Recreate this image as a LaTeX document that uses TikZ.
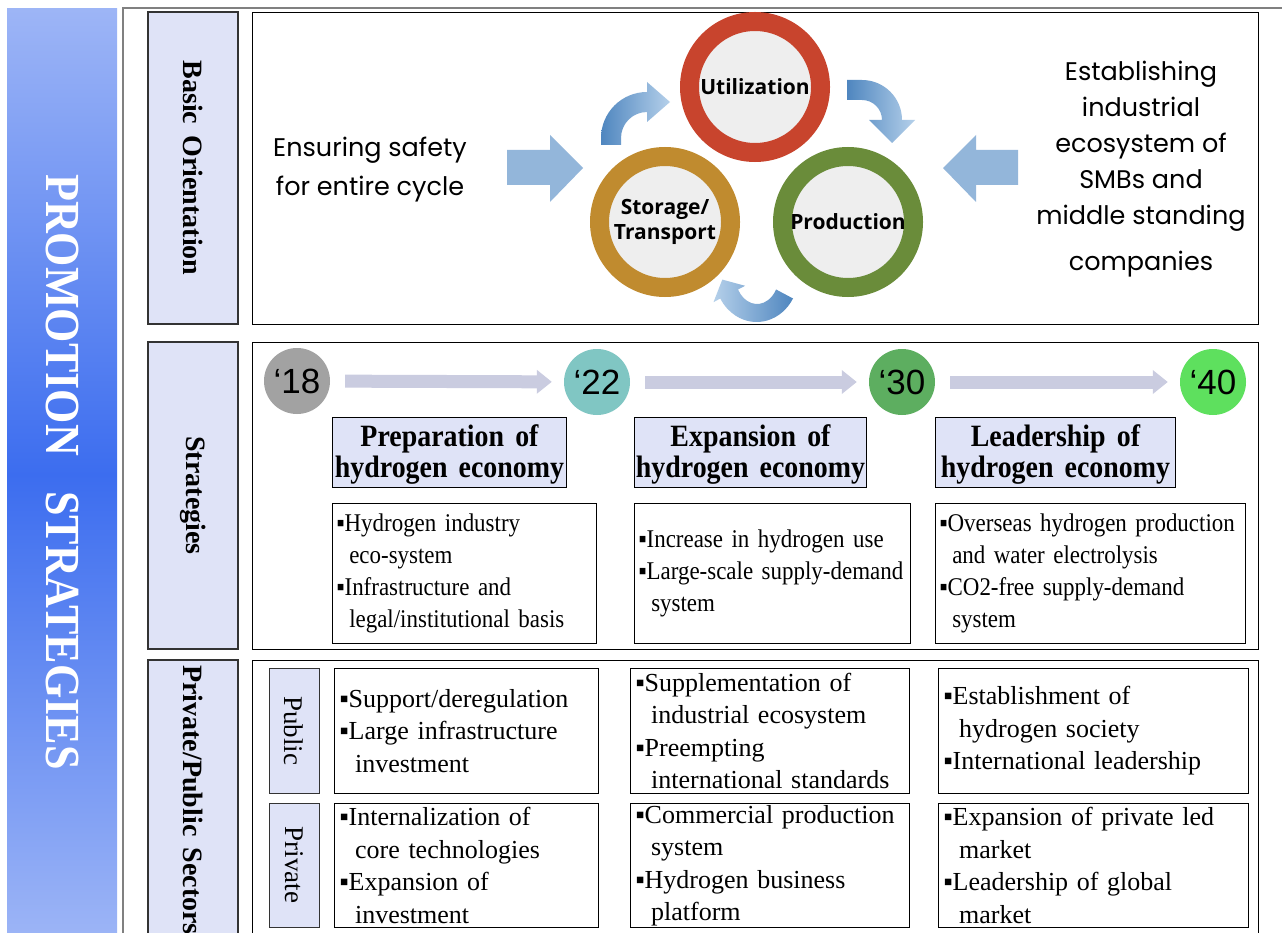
\documentclass[tikz,border=0pt]{standalone}
\usepackage{fontspec}
\setmainfont{Liberation Serif}[WordSpace=1.6]
\newfontfamily\condserif{Liberation Serif}[FakeStretch=0.9,WordSpace=1.3]
\newfontfamily\headserif{Liberation Serif}[FakeStretch=0.9,WordSpace=1.6]
\newfontfamily\gothic{Poppins}
\newfontfamily\cyclesans{Open Sans}
\newfontfamily\arialike{Liberation Sans}
\usetikzlibrary{arrows.meta}

\definecolor{lav}{HTML}{DFE3F7}
\definecolor{barlight}{HTML}{9DB5F6}
\definecolor{bardark}{HTML}{3C6DEF}
\definecolor{framegray}{HTML}{808080}
\definecolor{ringred}{HTML}{C8442D}
\definecolor{ringgold}{HTML}{C08B2F}
\definecolor{ringgreen}{HTML}{6A8C3A}
\definecolor{disk}{HTML}{EEEEEE}
\definecolor{flowdark}{HTML}{4F86BF}
\definecolor{flowlight}{HTML}{B5D0EA}
\definecolor{bigarrow}{HTML}{93B6DA}
\definecolor{yr18}{HTML}{A2A2A2}
\definecolor{yr22}{HTML}{80C6C3}
\definecolor{yr30}{HTML}{5DAE60}
\definecolor{yr40}{HTML}{5EE05E}
\definecolor{yrarrow}{HTML}{CACCE0}

\newcommand{\bul}{▪}
\newcommand{\ind}{\hspace*{0.6em}}
\newcommand{\cind}{\hspace*{0.5em}}

\tikzset{
  panel/.style={draw=black, line width=1pt, fill=white, inner sep=0pt, anchor=north west},
  sidelabel/.style={draw=black!80, line width=1.3pt, fill=lav, rotate=-90, inner sep=0pt,
    minimum height=90pt, font=\bfseries\fontsize{28}{28}\selectfont},
  rowlabel/.style={draw=black!80, line width=1pt, fill=lav, rotate=-90, inner sep=0pt,
    minimum height=50pt, font=\fontsize{27}{27}\selectfont},
  ring/.style={circle, draw=#1, line width=19pt, fill=disk, minimum size=131pt, inner sep=0pt,
    font=\cyclesans\bfseries\fontsize{21}{25}\selectfont, align=center},
  year/.style={circle, minimum size=66pt, inner sep=0pt, font=\arialike\fontsize{35}{35}\selectfont},
  yarrow/.style={draw=yrarrow, line width=13pt, -{Triangle[width=23pt,length=15pt]},
    shorten <=15pt, shorten >=12pt},
  headbox/.style={draw=black, line width=1pt, fill=lav, inner sep=0pt, anchor=north west,
    minimum height=70pt, align=center, font=\headserif\bfseries\fontsize{31}{31}\selectfont},
  stratbox/.style={draw=black, line width=1pt, fill=white, inner xsep=4pt, inner ysep=0pt,
    anchor=north west, minimum height=140pt, align=left, font=\condserif\fontsize{25.5}{32}\selectfont},
  sectorbox/.style={draw=black, line width=1pt, fill=white, inner xsep=5pt, inner ysep=0pt,
    anchor=north west, minimum height=125pt, align=left, font=\fontsize{26}{32.5}\selectfont},
  flowup/.style={left color=flowdark, right color=flowlight},
  flowback/.style={left color=flowlight, right color=flowdark},
}

\begin{document}
\begin{tikzpicture}[x=1pt,y=1pt]
\useasboundingbox (0,0) rectangle (1282,-933);
\clip (0,0) rectangle (1282,-933);
\fill[white] (0,0) rectangle (1282,-933);

% title bar
\shade[top color=barlight, bottom color=barlight, middle color=bardark] (7,-9) rectangle (117,-940);
\node[rotate=-90, text=white, font=\headserif\bfseries\fontsize{49}{49}\selectfont] (title) at (62,-472) {PROMOTION\ \ STRATEGIES};

% outer frame
\draw[framegray, line width=1.5pt] (123,-945) -- (123,-8) -- (1295,-8);

% row labels
\node[sidelabel, minimum width=312pt] (lblbasic) at (193,-168) {Basic Orientation};
\node[sidelabel, minimum width=307pt] (lblstrat) at (193,-495.5) {Strategies};
\node[sidelabel, minimum width=280pt] (lblsector) at (193,-800) {Private/Public Sectors};

% panels
\node[panel, minimum width=1006pt, minimum height=312pt] (basicpanel) at (252,-12) {};
\node[panel, minimum width=1006pt, minimum height=307pt] (stratpanel) at (252,-342) {};
\node[panel, minimum width=1006pt, minimum height=290pt] (sectorpanel) at (252,-660) {};

% ---------- basic orientation: hydrogen cycle ----------
\node[ring=ringred] (util) at (755,-87) {Utilization};
\node[ring=ringgold] (storage) at (665,-222) {Storage/\\Transport};
\node[ring=ringgreen] (prod) at (848,-222) {Production};

% storage -> utilization
\shade[flowup] (601,-145) -- (601,-138) arc[start angle=180, end angle=90, radius=46pt]
  -- (647,-82) -- (670,-102) -- (647,-122) -- (647,-112)
  arc[start angle=90, end angle=180, radius=26pt] -- (621,-145) -- cycle;
% utilization -> production
\shade[flowup] (847,-80) -- (862,-80) arc[start angle=90, end angle=0, radius=40pt]
  -- (915,-120) -- (892,-143) -- (869,-120) -- (882,-120)
  arc[start angle=0, end angle=90, radius=20pt] -- (847,-100) -- cycle;
% production -> storage
\shade[flowback] (793,-298.5) arc[start angle=-30, end angle=-150, x radius=42pt, y radius=47pt]
  -- (713.5,-302.2) -- (722.3,-279.6) -- (745.1,-285.8) -- (738,-289.5)
  arc[start angle=-150, end angle=-30, x radius=22pt, y radius=29pt] -- cycle;

% side statements and inward arrows
\node[font=\gothic\fontsize{25.5}{39}\selectfont, align=center] (safety) at (370,-170) {Ensuring safety\\for entire cycle};
\node[font=\gothic\fontsize{25.5}{36}\selectfont, align=center] (ecosys) at (1141,-169)
  {Establishing\\industrial\\ecosystem of\\SMBs and\\middle standing\\[10pt]companies};
\fill[bigarrow] (507,-150) -- (550,-150) -- (550,-135) -- (583,-168) -- (550,-202) -- (550,-185) -- (507,-185) -- cycle;
\fill[bigarrow] (1018,-150) -- (976,-150) -- (976,-135) -- (943,-168) -- (976,-202) -- (976,-185) -- (1018,-185) -- cycle;

% ---------- strategies ----------
\node[year, fill=yr18] (y18) at (297,-381) {‘18};
\node[year, fill=yr22] (y22) at (597,-382) {‘22};
\node[year, fill=yr30] (y30) at (902,-382) {‘30};
\node[year, fill=yr40] (y40) at (1213,-382) {‘40};
\draw[yarrow] (y18) -- (y22);
\draw[yarrow] (y22) -- (y30);
\draw[yarrow] (y30) -- (y40);

\node[headbox, minimum width=234pt] (head1) at (332,-417) {\rule{0pt}{26pt}Preparation of\\hydrogen economy};
\node[headbox, minimum width=232pt] (head2) at (634,-417) {\rule{0pt}{26pt}Expansion of\\hydrogen economy};
\node[headbox, minimum width=240pt] (head3) at (935,-417) {\rule{0pt}{26pt}Leadership of\\hydrogen economy};

\node[stratbox, minimum width=264pt, text width=256pt] (strat1) at (332,-503)
  {\bul Hydrogen industry\\\cind eco-system\\\bul Infrastructure and\\\cind legal/institutional basis};
\node[stratbox, minimum width=276pt, text width=268pt] (strat2) at (634,-503)
  {\bul Increase in hydrogen use\\\bul Large-scale supply-demand\\\cind system};
\node[stratbox, minimum width=310pt, text width=302pt] (strat3) at (935,-503)
  {\bul Overseas hydrogen production\\\cind and water electrolysis\\\bul CO2-free supply-demand\\\cind system};

% ---------- private / public sectors ----------
\node[rowlabel, minimum width=125pt] (lblpublic) at (294,-730.5) {Public};
\node[rowlabel, minimum width=124pt] (lblprivate) at (294,-865) {Private};

\node[sectorbox, minimum width=264pt, text width=254pt] (pub1) at (334,-668)
  {\bul Support/deregulation\\\bul Large infrastructure\\\ind investment};
\node[sectorbox, minimum width=279pt, text width=269pt] (pub2) at (630,-668)
  {\bul Supplementation of\\\ind industrial ecosystem\\\bul Preempting\\\ind international standards};
\node[sectorbox, minimum width=310pt, text width=300pt] (pub3) at (938,-668)
  {\bul Establishment of\\\ind hydrogen society\\\bul International leadership};

\node[sectorbox, minimum width=264pt, minimum height=124pt, text width=254pt] (priv1) at (334,-803)
  {\bul Internalization of\\\ind core technologies\\\bul Expansion of\\\ind investment};
\node[sectorbox, minimum width=279pt, minimum height=124pt, text width=269pt] (priv2) at (630,-803)
  {\bul Commercial production\\\ind system\\\bul Hydrogen business\\\ind platform};
\node[sectorbox, minimum width=310pt, minimum height=124pt, text width=300pt] (priv3) at (938,-803)
  {\bul Expansion of private led\\\ind market\\\bul Leadership of global\\\ind market};
\end{tikzpicture}
\end{document}
